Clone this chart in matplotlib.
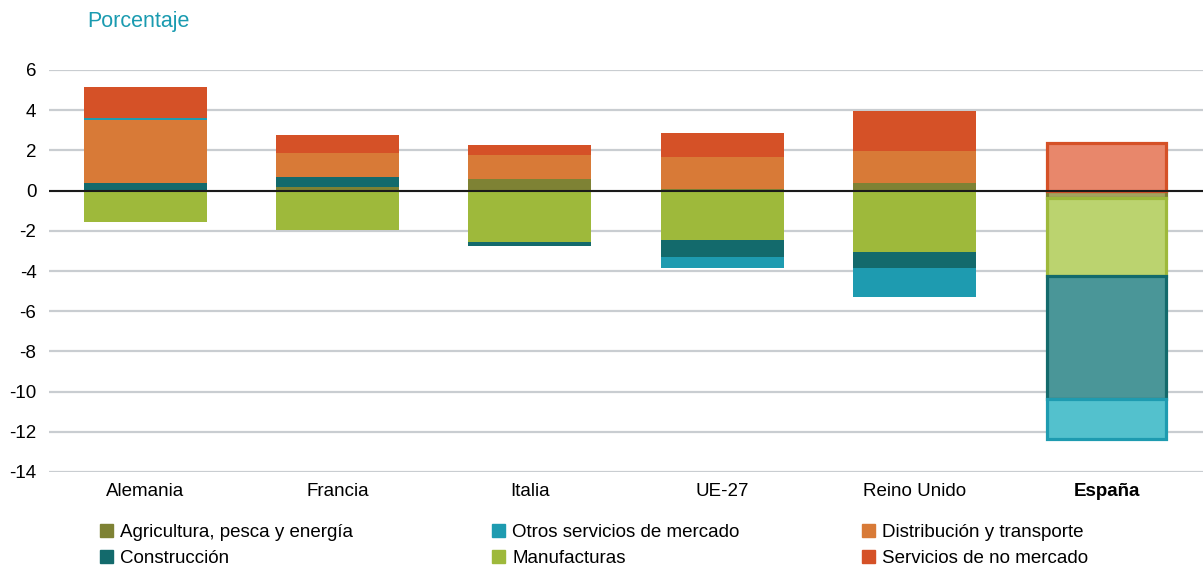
import matplotlib.pyplot as plt
import numpy as np
from matplotlib.patches import Patch

plt.rcParams['font.family'] = ['Liberation Sans', 'DejaVu Sans']
plt.rcParams['axes.unicode_minus'] = False

paises = ['Alemania', 'Francia', 'Italia', 'UE-27', 'Reino Unido', 'España']

# contribuciones por sector (puntos porcentuales)
agricultura = [0.05, 0.20, 0.58, 0.07, 0.40, -0.38]
manufacturas = [-1.57, -1.97, -2.57, -2.44, -3.05, -3.88]
construccion = [0.35, 0.50, -0.20, -0.88, -0.78, -6.12]
distribucion = [3.13, 1.17, 1.18, 1.62, 1.56, 0.0]
otros_serv = [0.07, 0.0, 0.0, -0.53, -1.47, -2.00]
no_mercado = [1.54, 0.90, 0.51, 1.16, 1.99, 2.37]

sectores = [
    ('Agricultura, pesca y energía', agricultura, '#7e8234', '#a3a35f'),
    ('Manufacturas', manufacturas, '#9eb93b', '#bbd36f'),
    ('Construcción', construccion, '#136a6c', '#4a9698'),
    ('Distribución y transporte', distribucion, '#d87a37', '#e9a070'),
    ('Otros servicios de mercado', otros_serv, '#1e9bb0', '#53c1cd'),
    ('Servicios de no mercado', no_mercado, '#d55127', '#e8876b'),
]


def work():
    fig = plt.figure(figsize=(12.03, 5.67), dpi=100)
    ax = fig.add_axes([49 / 1203, 95 / 567, 1 - 49 / 1203, 402 / 567])

    x = np.arange(len(paises))
    pos_base = np.zeros(len(paises))
    neg_base = np.zeros(len(paises))
    colores = {}
    for nombre, vals, col, light in sectores:
        vals = np.array(vals)
        bottom = np.where(vals >= 0, pos_base, neg_base)
        ax.bar(x[:-1], vals[:-1], 0.64, bottom=bottom[:-1], color=col, zorder=2)
        if vals[-1] != 0:
            ax.bar(x[-1], vals[-1], 0.62, bottom=bottom[-1], color=light,
                   edgecolor=col, linewidth=2.3, zorder=2)
        pos_base += np.where(vals >= 0, vals, 0)
        neg_base += np.where(vals < 0, vals, 0)
        colores[nombre] = col

    ax.set_xlim(-0.5, 5.5)
    ax.set_ylim(-14, 6)
    ax.set_yticks(np.arange(-14, 7, 2))
    ax.set_axisbelow(True)
    ax.grid(axis='y', color='#c9cdd1', linewidth=1.6)
    ax.axhline(0, color='#1a1a1a', linewidth=1.5, zorder=3)
    for s in ax.spines.values():
        s.set_visible(False)
    ax.tick_params(axis='y', length=0, labelsize=13.5, pad=9)
    ax.tick_params(axis='x', length=0, labelsize=13.5, pad=8)
    ax.set_xticks(x)
    ax.set_xticklabels(paises)
    ax.get_xticklabels()[-1].set_fontweight('bold')

    fig.text(87 / 1203, 1 - 21 / 567, 'Porcentaje', color='#1a9bb0',
             fontsize=15.5, va='center', ha='left')

    # leyenda en tres columnas
    columnas = [
        (100, ['Agricultura, pesca y energía', 'Construcción']),
        (492, ['Otros servicios de mercado', 'Manufacturas']),
        (862, ['Distribución y transporte', 'Servicios de no mercado']),
    ]
    for xpos, nombres in columnas:
        handles = [Patch(color=colores[n], label=n) for n in nombres]
        fig.legend(handles=handles, loc='upper left',
                   bbox_to_anchor=(xpos / 1203, 1 - 524 / 567),
                   frameon=False, fontsize=13.5, handlelength=0.68,
                   handleheight=0.68, handletextpad=0.4, labelspacing=0.5,
                   borderpad=0, borderaxespad=0)

    fig.savefig('out.png', dpi=100)


if __name__ == '__main__':
    work()
